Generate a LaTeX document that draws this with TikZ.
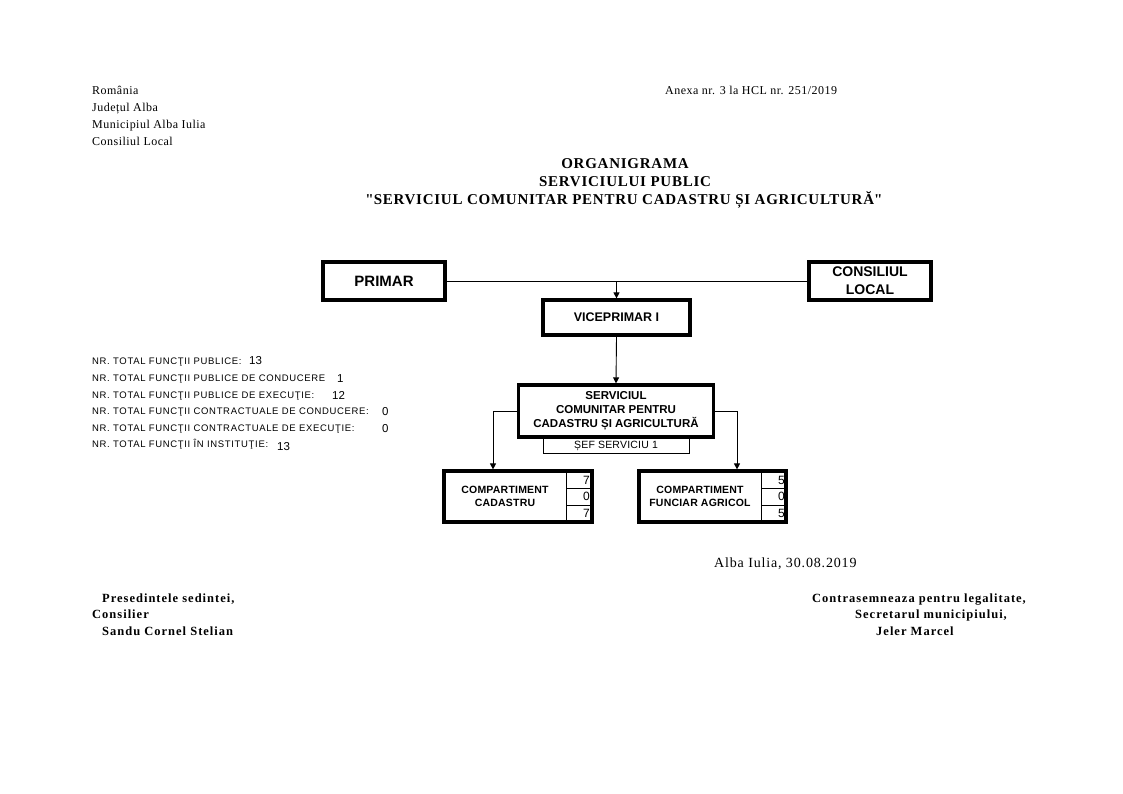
\documentclass[tikz,border=0pt]{standalone}
\usepackage{fontspec}
\setmainfont{Liberation Serif}
\setsansfont{Liberation Sans}
\newfontfamily\qfont{Liberation Serif}[Ligatures=ResetAll]
\usetikzlibrary{arrows.meta}
\newcommand{\fs}[2]{\fontsize{#1}{#2}\selectfont}
\newcommand{\ls}[1]{\addfontfeatures{LetterSpace=#1}}
\newcommand{\dq}{{\qfont\bfseries\ls{5}"}}
\begin{document}
\begin{tikzpicture}[x=1pt,y=-1pt,
  box/.style={draw, line width=3.2pt, align=center, inner sep=0pt, font=\sffamily\bfseries},
  thinbox/.style={draw, line width=0.8pt, inner sep=0pt, font={\sffamily\fs{10.5}{12}\ls{2}}},
  conn/.style={line width=0.9pt},
  arr/.style={-{Triangle[length=6pt,width=6pt]}},
  hdr/.style={anchor=base west, inner sep=0pt, font={\fs{12}{13}\ls{4}}},
  ttl/.style={anchor=base, inner sep=0pt, font={\bfseries\fs{15}{17}\ls{5}}},
  stat/.style={anchor=base west, inner sep=0pt, font={\sffamily\fs{9.5}{10}\ls{7}}},
  statn/.style={anchor=base west, inner sep=0pt, font=\sffamily\fs{11.5}{12}},
  sig/.style={anchor=base west, inner sep=0pt, font={\bfseries\fs{12.5}{14}\ls{8}}},
  num/.style={anchor=east, inner sep=0pt, font=\sffamily\fs{12}{12}},
  cmp/.style={inner sep=0pt, align=center, font={\sffamily\bfseries\fs{10.5}{13}\ls{2}}},
  cell/.style={line width=0.7pt}
]
\useasboundingbox (0,0) rectangle (1123,793);
\fill[white] (0,0) rectangle (1123,793);

% header
\node[hdr] (h1) at (92,94) {România};
\node[hdr] (h2) at (92,111) {Județul Alba};
\node[hdr] (h3) at (92,128) {Municipiul Alba Iulia};
\node[hdr] (h4) at (92,145) {Consiliul Local};
\node[hdr] (anexa) at (665,94) {Anexa nr. 3 la HCL nr. 251/2019};

% title
\node[ttl] (t1) at (625,168) {ORGANIGRAMA};
\node[ttl] (t2) at (625,186) {SERVICIULUI PUBLIC};
\node[ttl] (t3) at (624,204) {\dq SERVICIUL COMUNITAR PENTRU CADASTRU ȘI AGRICULTURĂ\dq};

% boxes
\node[box, minimum width=122pt, minimum height=38pt, font=\sffamily\bfseries\fs{15}{18}] (primar) at (384,281) {PRIMAR};
\node[box, minimum width=122pt, minimum height=38pt, font=\sffamily\bfseries\fs{14}{18}] (cl) at (870,281) {CONSILIUL\\LOCAL};
\node[box, minimum width=147pt, minimum height=35pt, font=\sffamily\bfseries\fs{12.5}{15}] (vice) at (616.5,317.5) {VICEPRIMAR I};
\node[box, minimum width=195pt, minimum height=52pt, font=\sffamily\bfseries\fs{11.5}{14}] (serv) at (616,411) {SERVICIUL\\COMUNITAR PENTRU\\CADASTRU ȘI AGRICULTURĂ};
\node[thinbox, minimum width=146pt, minimum height=15pt, anchor=north] (sef) at (616,438) {ȘEF SERVICIU 1};

\node[box, minimum width=148pt, minimum height=51pt] (cad) at (518,496.5) {};
\node[box, minimum width=147pt, minimum height=51pt] (func) at (712.5,496.5) {};
\node[cmp] (cadt) at (505,496.5) {COMPARTIMENT\\CADASTRU};
\node[cmp] (funct) at (700,496.5) {COMPARTIMENT\\FUNCIAR AGRICOL};

% number cells
\draw[cell] (566,471) -- (566,522) (566,488) -- (592,488) (566,505) -- (592,505);
\draw[cell] (761,471) -- (761,522) (761,488) -- (786,488) (761,505) -- (786,505);
\node[num] (c1) at (590,480) {7};
\node[num] (c2) at (590,496.5) {0};
\node[num] (c3) at (590,513.5) {7};
\node[num] (f1) at (785,480) {5};
\node[num] (f2) at (785,496.5) {0};
\node[num] (f3) at (785,513.5) {5};

% connectors
\draw[conn] (primar.east) -- (cl.west);
\coordinate (jn) at (616.5,281);
\draw[conn,arr] (jn) -- (vice.north);
\draw[conn,arr] (vice.south) -- (serv.north);
\draw[conn,arr] (serv.west) -| ([xshift=-25pt]cad.north);
\draw[conn,arr] (serv.east) -| ([xshift=24.5pt]func.north);

% stats
\node[stat] (s1) at (92,364) {NR. TOTAL FUNCŢII PUBLICE:};
\node[statn] (n1) at (249,364) {13};
\node[stat] (s2) at (92,381) {NR. TOTAL FUNCŢII PUBLICE DE CONDUCERE};
\node[statn] (n2) at (337,382) {1};
\node[stat] (s3) at (92,398) {NR. TOTAL FUNCŢII PUBLICE DE EXECUŢIE:};
\node[statn] (n3) at (332,399) {12};
\node[stat] (s4) at (92,414) {NR. TOTAL FUNCŢII CONTRACTUALE DE CONDUCERE:};
\node[statn] (n4) at (382,415) {0};
\node[stat] (s5) at (92,431) {NR. TOTAL FUNCŢII CONTRACTUALE DE EXECUŢIE:};
\node[statn] (n5) at (382,432) {0};
\node[stat] (s6) at (92,447) {NR. TOTAL FUNCŢII ÎN INSTITUŢIE:};
\node[statn] (n6) at (277,450) {13};

% footer
\node[anchor=base west, inner sep=0pt, font={\fs{14}{15}\ls{6}}] (date) at (714,567) {Alba Iulia, 30.08.2019};
\node[sig] (l1) at (102,602) {Presedintele sedintei,};
\node[sig] (l2) at (92,618) {Consilier};
\node[sig] (l3) at (102,635) {Sandu Cornel Stelian};
\node[sig] (r1) at (812,602) {Contrasemneaza pentru legalitate,};
\node[sig] (r2) at (855,618) {Secretarul municipiului,};
\node[sig] (r3) at (876,635) {Jeler Marcel};
\end{tikzpicture}
\end{document}
